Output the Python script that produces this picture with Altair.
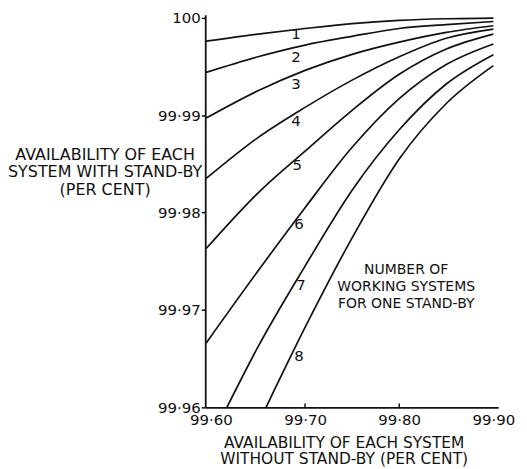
import altair as alt
import pandas as pd

# ---- data ----
curve_ids = [1, 2, 3, 4, 5, 6, 7, 8]
x_std = [99.595, 99.65, 99.70, 99.75, 99.80, 99.85, 99.90]
x_c7 = [99.617, 99.65, 99.70, 99.75, 99.80, 99.85, 99.90]
x_c8 = [99.6586, 99.70, 99.75, 99.80, 99.85, 99.90]

y_c1 = [99.99760, 99.99833, 99.99890, 99.99940, 99.99973, 99.99990, 99.99997]
y_c2 = [99.99440, 99.99600, 99.99720, 99.99810, 99.99890, 99.99930, 99.99962]
y_c3 = [99.98970, 99.99250, 99.99460, 99.99625, 99.99750, 99.99850, 99.99918]
y_c4 = [99.98350, 99.98770, 99.99080, 99.99360, 99.99600, 99.99790, 99.99884]
y_c5 = [99.97630, 99.98200, 99.98630, 99.99050, 99.99420, 99.99680, 99.99833]
y_c6 = [99.96660, 99.97400, 99.98050, 99.98670, 99.99170, 99.99520, 99.99731]
y_c7 = [99.96000, 99.96620, 99.97450, 99.98230, 99.98850, 99.99320, 99.99621]
y_c8 = [99.96000, 99.96820, 99.97740, 99.98550, 99.99120, 99.99509]

label_text = ["1", "2", "3", "4", "5", "6", "7", "8"]
label_x = [99.6905, 99.6905, 99.6905, 99.6905, 99.6916, 99.6937, 99.6958, 99.6937]
label_y = [99.99836, 99.99601, 99.99315, 99.98936, 99.98486, 99.97882, 99.97258, 99.96522]

note_lines = ["NUMBER OF", "WORKING SYSTEMS", "FOR ONE STAND-BY"]
note_x = [99.8074, 99.8074, 99.8074]
note_y = [99.97412, 99.97238, 99.97064]

x_ticks = [99.60, 99.70, 99.80, 99.90]
y_ticks = [99.96, 99.97, 99.98, 99.99, 100.0]
inner_ticks = [99.70, 99.80]

# ---- build table ----
xs_all = [x_std] * 6 + [x_c7, x_c8]
ys_all = [y_c1, y_c2, y_c3, y_c4, y_c5, y_c6, y_c7, y_c8]
rows = []
for cid, xs, ys in zip(curve_ids, xs_all, ys_all):
    for xv, yv in zip(xs, ys):
        rows.append({"curve": cid, "x": xv, "y": yv})
df = pd.DataFrame(rows)
labels = pd.DataFrame({"t": label_text, "x": label_x, "y": label_y})
notes = pd.DataFrame({"t": note_lines, "x": note_x, "y": note_y})
ticks = pd.DataFrame({"x": inner_ticks, "y": [99.96] * 2, "y2": [99.9604] * 2})

FONT = "DejaVu Sans"
INK = "#111111"
XDOM = [99.594, 99.905]
YDOM = [99.96, 100.0003]

lab_expr = "datum.value == 100 ? '100' : replace(format(datum.value, '.2f'), '.', '·')"

xscale = alt.Scale(domain=XDOM, nice=False, zero=False)
yscale = alt.Scale(domain=YDOM, nice=False, zero=False)

lines = alt.Chart(df).mark_line(
    color=INK, strokeWidth=1.7, interpolate="monotone", clip=True
).encode(
    x=alt.X("x:Q", scale=xscale, axis=alt.Axis(
        values=x_ticks, labelExpr=lab_expr, ticks=False, tickSize=0,
        labelPadding=5, labelFontSize=15, labelFont=FONT, labelColor=INK,
        domainColor=INK, domainWidth=1.8, grid=False,
        title=["AVAILABILITY OF EACH SYSTEM", "WITHOUT STAND-BY (PER CENT)"],
        titleFont=FONT, titleFontSize=15.5, titleFontWeight="normal", titleColor=INK,
        titleAlign="center", titleBaseline="top", titleX=139, titleY=28,
        titleLineHeight=16.5, labelFlush=False,
    )),
    y=alt.Y("y:Q", scale=yscale, axis=alt.Axis(
        values=y_ticks, labelExpr=lab_expr, tickSize=4, tickWidth=1.5,
        tickColor=INK, labelPadding=1, labelFontSize=15, labelFont=FONT,
        labelColor=INK, domainColor=INK, domainWidth=1.8, grid=False,
        title=["AVAILABILITY OF EACH", "SYSTEM WITH STAND-BY", "(PER CENT)"],
        titleFont=FONT, titleFontSize=16, titleFontWeight="normal", titleColor=INK,
        titleAngle=0, titleAlign="center", titleBaseline="top",
        titleX=-101, titleY=132, titleLineHeight=17.5, labelFlush=False,
    )),
    detail="curve:N",
)

num = alt.Chart(labels).mark_text(
    font=FONT, fontSize=15, color=INK, align="center", baseline="middle"
).encode(x=alt.X("x:Q", scale=xscale), y=alt.Y("y:Q", scale=yscale), text="t:N")

note = alt.Chart(notes).mark_text(
    font=FONT, fontSize=14, color=INK, align="center", baseline="middle"
).encode(x=alt.X("x:Q", scale=xscale), y=alt.Y("y:Q", scale=yscale), text="t:N")

tk = alt.Chart(ticks).mark_rule(color=INK, strokeWidth=1.5).encode(
    x=alt.X("x:Q", scale=xscale), y=alt.Y("y:Q", scale=yscale), y2="y2:Q"
)

chart = alt.layer(lines, num, note, tk).properties(
    width=294, height=394,
    autosize=alt.AutoSizeParams(type="none"),
    padding={"left": 198, "top": 6, "right": 21, "bottom": 61},
    background="white",
).configure_view(stroke=None)

chart.save("out.html", embed_options={"renderer": "svg", "actions": False})
